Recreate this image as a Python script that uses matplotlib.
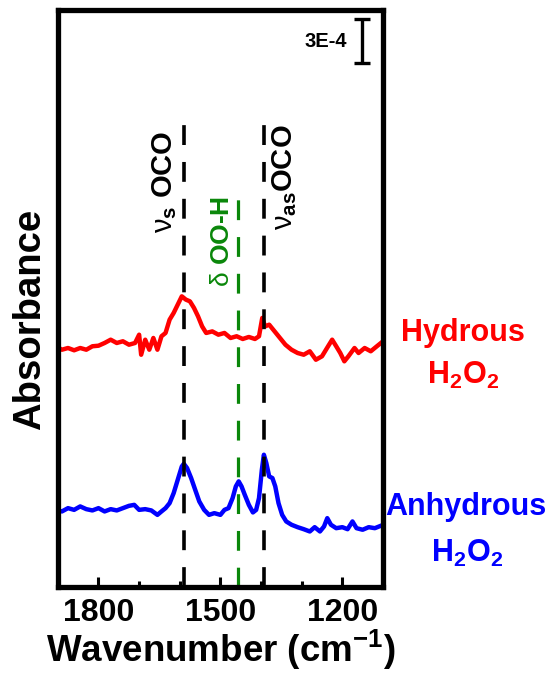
import numpy as np
import matplotlib
matplotlib.use('Agg')
import matplotlib.pyplot as plt
from matplotlib.ticker import MultipleLocator

plt.rcParams['font.family'] = ['Liberation Sans', 'DejaVu Sans']
plt.rcParams['mathtext.fontset'] = 'custom'
plt.rcParams['mathtext.rm'] = 'Liberation Sans'
plt.rcParams['mathtext.bf'] = 'Liberation Sans:bold'
plt.rcParams['mathtext.it'] = 'Liberation Sans:italic'

# spectra, absorbance in units of 1E-4 (offset stacked)
wn_hyd = [1905, 1890, 1875, 1860, 1845, 1830, 1815, 1800, 1785, 1770, 1755, 1740,
          1725, 1710, 1700, 1695, 1685, 1675, 1665, 1655, 1645, 1635, 1625, 1615,
          1605, 1595, 1585, 1575, 1565, 1555, 1545, 1535, 1520, 1505, 1490, 1475,
          1460, 1445, 1430, 1415, 1405, 1397, 1390, 1380, 1370, 1360, 1350, 1340,
          1325, 1310, 1295, 1280, 1265, 1250, 1235, 1225, 1215, 1205, 1195, 1185,
          1170, 1160, 1145, 1130, 1115, 1105]
abs_hyd = [16.81, 16.57, 16.69, 16.53, 16.69, 16.57, 16.81, 16.85, 17.04, 17.27, 17.04, 17.16,
           16.92, 17.04, 17.62, 16.22, 17.27, 16.57, 17.39, 16.57, 17.51, 17.74, 18.67, 19.14,
           19.72, 20.30, 20.07, 19.95, 19.49, 18.90, 18.20, 17.74, 17.85, 17.62, 17.74, 17.39,
           17.51, 17.32, 17.46, 17.32, 17.51, 18.79, 18.20, 18.32, 17.97, 17.62, 17.27, 16.92,
           16.57, 16.34, 16.22, 16.46, 15.87, 16.11, 16.81, 17.27, 16.81, 16.34, 15.76, 16.11,
           16.69, 16.34, 16.69, 16.46, 16.81, 17.04]

wn_anh = [1905, 1890, 1875, 1860, 1845, 1830, 1815, 1800, 1785, 1770, 1755, 1740,
          1725, 1712, 1700, 1685, 1670, 1655, 1645, 1635, 1625, 1615, 1605, 1595,
          1590, 1582, 1572, 1562, 1552, 1540, 1528, 1515, 1500, 1490, 1480, 1470,
          1462, 1455, 1448, 1440, 1430, 1420, 1412, 1405, 1398, 1393, 1387, 1380,
          1372, 1365, 1357, 1348, 1338, 1325, 1310, 1295, 1280, 1268, 1255, 1245,
          1237, 1228, 1215, 1200, 1187, 1175, 1165, 1150, 1135, 1120, 1105]
abs_anh = [5.38, 5.27, 5.50, 5.38, 5.62, 5.43, 5.34, 5.50, 5.27, 5.43, 5.34, 5.50,
           5.66, 5.73, 5.38, 5.43, 5.34, 5.03, 5.27, 5.50, 5.85, 6.55, 7.48, 8.41,
           8.60, 8.30, 7.60, 6.78, 5.97, 5.38, 5.03, 5.15, 5.03, 5.38, 5.50, 6.20,
           7.02, 7.37, 7.02, 6.43, 5.73, 5.20, 5.38, 6.20, 8.18, 9.23, 8.65, 7.72,
           7.60, 7.02, 5.85, 5.03, 4.57, 4.34, 4.17, 4.03, 3.87, 4.17, 3.87, 4.22,
           4.80, 4.34, 4.10, 4.17, 4.03, 4.57, 4.10, 3.99, 4.17, 4.10, 4.27]

# band assignments
peak_ocos = 1590
peak_ooh = 1457
peak_ocoas = 1393

green = '#0a870a'

fig = plt.figure(figsize=(5.51, 6.73), dpi=100)
ax = fig.add_axes([0.105, 0.128, 0.590, 0.857])

ax.plot(wn_hyd, abs_hyd, color='#ff0000', lw=3.2, solid_joinstyle='round')
ax.plot(wn_anh, abs_anh, color='#0000ff', lw=3.2, solid_joinstyle='round')

# dashed markers
ax.plot([peak_ocos, peak_ocos], [0, 32.3], color='black', lw=2.6, dashes=(5.5, 4.7))
ax.plot([peak_ocoas, peak_ocoas], [0, 32.3], color='black', lw=2.6, dashes=(5.5, 4.7))
ax.plot([peak_ooh, peak_ooh], [0, 27.3], color=green, lw=2.3, dashes=(6.2, 5.3))

ax.text(1637, 28.3, r'$\mathrm{\nu}_\mathregular{s}$ OCO', rotation=90, ha='center', va='center',
        fontsize=21, fontweight='bold')
ax.text(1343, 28.6, r'$\mathrm{\nu}_\mathregular{as}$OCO', rotation=90, ha='center', va='center',
        fontsize=21, fontweight='bold')
ax.text(1497, 24.1, r'$\mathrm{\delta}$ OO-H', rotation=90, ha='center', va='center',
        fontsize=19, fontweight='bold', color=green)

# scale bar
ax.errorbar([1151], [38.15], yerr=[1.55], color='black', capsize=6, elinewidth=2.4, capthick=2.4)
ax.text(1188, 38.1, '3E-4', ha='right', va='center', fontsize=14.5, fontweight='bold')

ax.set_xlim(1900, 1100)
ax.set_ylim(0, 40.3)
ax.set_yticks([])
ax.xaxis.set_major_locator(MultipleLocator(300))
ax.xaxis.set_minor_locator(MultipleLocator(100))
ax.tick_params(axis='x', which='major', direction='in', length=7, width=2.2,
               labelsize=23, pad=8)
ax.tick_params(axis='x', which='minor', direction='in', length=4.5, width=2.2)
for lbl in ax.get_xticklabels():
    lbl.set_fontweight('bold')
for s in ax.spines.values():
    s.set_linewidth(3.8)

fig.text(0.40, 0.034, r'Wavenumber (cm$^\mathbf{-1}$)', ha='center', va='center',
         fontsize=26.5, fontweight='bold')
fig.text(0.054, 0.525, 'Absorbance', rotation=90, ha='center', va='center',
         fontsize=27.5, fontweight='bold')

fig.text(0.840, 0.505, 'Hydrous', ha='center', va='center', fontsize=22,
         fontweight='bold', color='#ff0000')
fig.text(0.840, 0.442, r'H$_\mathbf{2}$O$_\mathbf{2}$', ha='center', va='center',
         fontsize=22, fontweight='bold', color='#ff0000')
fig.text(0.845, 0.247, 'Anhydrous', ha='center', va='center', fontsize=22,
         fontweight='bold', color='#0000ff')
fig.text(0.848, 0.178, r'H$_\mathbf{2}$O$_\mathbf{2}$', ha='center', va='center',
         fontsize=22, fontweight='bold', color='#0000ff')

fig.savefig('out.png', dpi=100)
